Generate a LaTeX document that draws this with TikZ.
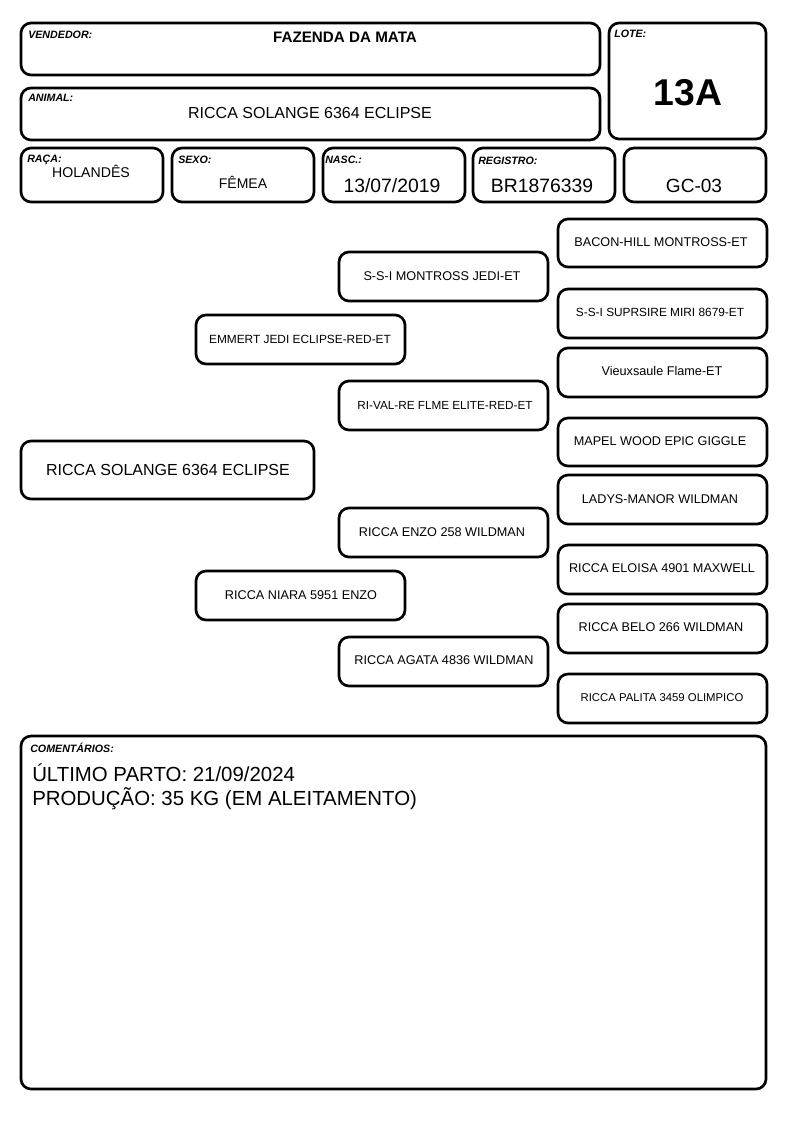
\documentclass[tikz,border=0pt]{standalone}
\usepackage{fontspec}
\setmainfont{Liberation Sans}
\usetikzlibrary{fit}
\begin{document}
\begin{tikzpicture}[x=0.75pt,y=-0.75pt,
  box/.style={draw=black, line width=2pt, rounded corners=7.5pt, inner sep=0pt, fill=white},
  lbl/.style={font=\fontsize{8}{9}\selectfont\bfseries\itshape, anchor=base west, inner sep=0pt},
  val/.style={anchor=base, inner sep=0pt},
  ped/.style={inner sep=0pt, font=\fontsize{9.5}{11}\selectfont},
  peds/.style={inner sep=0pt, font=\fontsize{8.9}{11}\selectfont},
]
\useasboundingbox[fill=white] (0,0) rectangle (794,1123);

% header boxes
\node[box, fit={(21,23)(600,75)}] (vend) {};
\node[box, fit={(21,88)(600,140)}] (anim) {};
\node[box, fit={(609,23)(766,139)}] (lote) {};
\node[box, fit={(21,148)(163,202)}] (raca) {};
\node[box, fit={(172,148)(314,202)}] (sexo) {};
\node[box, fit={(323,148)(465,202)}] (nasc) {};
\node[box, fit={(473,148)(615,202)}] (regi) {};
\node[box, fit={(624,148)(766,202)}] (gc) {};

\node[lbl] (lvend) at (28,39) {VENDEDOR:};
\node[val, font=\fontsize{11.4}{13}\selectfont\bfseries] (tvend) at (345,43) {FAZENDA DA MATA};
\node[lbl] (lanim) at (28,102) {ANIMAL:};
\node[val, font=\fontsize{12}{14}\selectfont] (tanim) at (310,119) {RICCA SOLANGE 6364 ECLIPSE};
\node[lbl] (llote) at (614,38) {LOTE:};
\node[val, font=\fontsize{28}{30}\selectfont\bfseries] (tlote) at (688,106) {13A};
\node[lbl] (lraca) at (27,163) {RAÇA:};
\node[val, font=\fontsize{10.6}{12}\selectfont] (traca) at (91,178) {HOLANDÊS};
\node[lbl] (lsexo) at (178,164) {SEXO:};
\node[val, font=\fontsize{10.5}{12}\selectfont] (tsexo) at (243,189) {FÊMEA};
\node[lbl] (lnasc) at (325,164) {NASC.:};
\node[val, font=\fontsize{14.5}{16}\selectfont] (tnasc) at (392,193) {13/07/2019};
\node[lbl] (lregi) at (478,165) {REGISTRO:};
\node[val, font=\fontsize{14.5}{16}\selectfont] (tregi) at (542,193) {BR1876339};
\node[val, font=\fontsize{14.3}{16}\selectfont] (tgc) at (694,193) {GC-03};

% pedigree boxes
\node[box, fit={(21,441)(314,499)}] (p0) {};
\node[box, fit={(196,315)(405,364)}] (p1) {};
\node[box, fit={(196,571)(405,620)}] (p2) {};
\node[box, fit={(339,252)(548,301)}] (p3) {};
\node[box, fit={(339,381)(548,430)}] (p4) {};
\node[box, fit={(339,508)(548,557)}] (p5) {};
\node[box, fit={(339,637)(548,686)}] (p6) {};
\node[box, fit={(558,219)(767,267)}] (p7) {};
\node[box, fit={(558,289)(767,338)}] (p8) {};
\node[box, fit={(558,348)(767,397)}] (p9) {};
\node[box, fit={(558,418)(767,466)}] (p10) {};
\node[box, fit={(558,475)(767,524)}] (p11) {};
\node[box, fit={(558,545)(767,594)}] (p12) {};
\node[box, fit={(558,604)(767,653)}] (p13) {};
\node[box, fit={(558,674)(767,723)}] (p14) {};

% pedigree texts
\node[inner sep=0pt, font=\fontsize{12}{14}\selectfont] (t0) at (168,470) {RICCA SOLANGE 6364 ECLIPSE};
\node[peds] (t1) at (300,339) {EMMERT JEDI ECLIPSE-RED-ET};
\node[ped] (t2) at (301,595) {RICCA NIARA 5951 ENZO};
\node[ped] (t3) at (442,276) {S-S-I MONTROSS JEDI-ET};
\node[inner sep=0pt, font=\fontsize{8.8}{11}\selectfont] (t4) at (445,405) {RI-VAL-RE FLME ELITE-RED-ET};
\node[ped] (t5) at (442,532) {RICCA ENZO 258 WILDMAN};
\node[ped] (t6) at (444,660) {RICCA AGATA 4836 WILDMAN};
\node[ped] (t7) at (661,242) {BACON-HILL MONTROSS-ET};
\node[peds] (t8) at (660,312) {S-S-I SUPRSIRE MIRI 8679-ET};
\node[ped] (t9) at (662,371) {Vieuxsaule Flame-ET};
\node[ped] (t10) at (660,441) {MAPEL WOOD EPIC GIGGLE};
\node[ped] (t11) at (660,499) {LADYS-MANOR WILDMAN};
\node[ped] (t12) at (662,568) {RICCA ELOISA 4901 MAXWELL};
\node[ped] (t13) at (661,627) {RICCA BELO 266 WILDMAN};
\node[inner sep=0pt, font=\fontsize{8.5}{10}\selectfont] (t14) at (662,698) {RICCA PALITA 3459 OLIMPICO};

% comments
\node[box, fit={(21,736)(766,1089)}] (com) {};
\node[lbl] (lcom) at (30,752) {COMENTÁRIOS:};
\node[anchor=base west, inner sep=0pt, font=\fontsize{15.3}{18}\selectfont] (c1) at (32,781) {ÚLTIMO PARTO: 21/09/2024};
\node[anchor=base west, inner sep=0pt, font=\fontsize{15.3}{18}\selectfont] (c2) at (32,805) {PRODUÇÃO: 35 KG (EM ALEITAMENTO)};
\end{tikzpicture}
\end{document}
